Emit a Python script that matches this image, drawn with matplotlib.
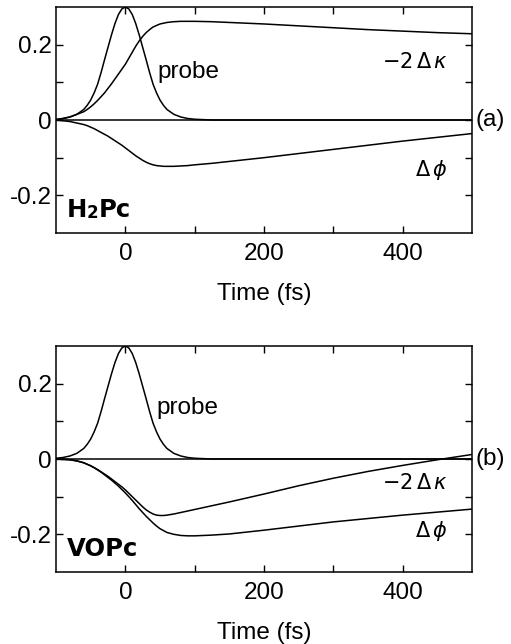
import matplotlib
matplotlib.use("Agg")
import matplotlib.pyplot as plt
import matplotlib.transforms as mtransforms

# ---------------- data ----------------
time_fs = [-100, -90, -80, -70, -60, -55, -50, -45, -40, -35, -30, -25, -20, -15, -10, -5,
           0, 5, 10, 15, 20, 25, 30, 35, 40, 45, 50, 55, 60, 70, 80, 90, 100,
           125, 150, 200, 250, 300, 350, 400, 450, 500]

probe = [0.002, 0.004, 0.008, 0.015, 0.028, 0.039, 0.053, 0.072, 0.095, 0.126, 0.160,
         0.193, 0.226, 0.256, 0.280, 0.295,
         0.300, 0.295, 0.280, 0.256, 0.226, 0.193, 0.160, 0.126, 0.095, 0.072, 0.053,
         0.039, 0.028, 0.015, 0.008, 0.004, 0.002,
         0.0, 0.0, 0.0, 0.0, 0.0, 0.0, 0.0, 0.0, 0.0]

# (a) H2Pc
kappa_a = [0.0, 0.004, 0.008, 0.015, 0.022, 0.028, 0.035, 0.043, 0.052, 0.062, 0.072,
           0.084, 0.096, 0.109, 0.122, 0.135,
           0.148, 0.164, 0.180, 0.196, 0.210, 0.222, 0.232, 0.240, 0.247, 0.251, 0.255,
           0.257, 0.259, 0.261, 0.262, 0.262, 0.262,
           0.261, 0.259, 0.255, 0.250, 0.245, 0.240, 0.236, 0.232, 0.229]
phi_a = [0.0, -0.002, -0.004, -0.008, -0.012, -0.015, -0.019, -0.023, -0.028, -0.033,
         -0.038, -0.043, -0.049, -0.055, -0.061, -0.067,
         -0.074, -0.081, -0.088, -0.095, -0.101, -0.107, -0.112, -0.116, -0.119, -0.121,
         -0.122, -0.123, -0.123, -0.123, -0.122, -0.121, -0.119,
         -0.115, -0.110, -0.100, -0.089, -0.078, -0.067, -0.056, -0.046, -0.036]

# (b) VOPc
kappa_b = [0.0, -0.001, -0.002, -0.005, -0.010, -0.014, -0.018, -0.023, -0.028, -0.034,
           -0.040, -0.046, -0.053, -0.060, -0.067, -0.074,
           -0.082, -0.091, -0.100, -0.109, -0.118, -0.127, -0.135, -0.141, -0.146, -0.149,
           -0.150, -0.150, -0.149, -0.146, -0.142, -0.138, -0.134,
           -0.124, -0.114, -0.093, -0.071, -0.051, -0.033, -0.017, -0.002, 0.012]
phi_b = [0.0, -0.001, -0.002, -0.005, -0.010, -0.014, -0.018, -0.023, -0.029, -0.035,
         -0.042, -0.049, -0.056, -0.064, -0.072, -0.081,
         -0.090, -0.100, -0.110, -0.121, -0.132, -0.142, -0.152, -0.161, -0.170, -0.178,
         -0.185, -0.190, -0.195, -0.200, -0.203, -0.204, -0.204,
         -0.202, -0.199, -0.189, -0.178, -0.167, -0.158, -0.149, -0.141, -0.133]

xticks = [0, 200, 400]
xminor = [100, 300]
yticks = [-0.2, 0.0, 0.2]
ytick_labels = ["-0.2", "0", "0.2"]
yminor = [-0.1, 0.1]

# ---------------- style ----------------
plt.rcParams['font.family'] = ['Liberation Sans', 'DejaVu Sans']
plt.rcParams['mathtext.fontset'] = 'dejavusans'
FS = 17.5
LW = 1.1

fig = plt.figure(figsize=(5.11, 6.44), dpi=100)
ax_a = fig.add_axes([0.1096, 0.6382, 0.8141, 0.3509])
ax_b = fig.add_axes([0.1096, 0.1118, 0.8141, 0.3509])


def setup(ax):
    ax.set_xlim(-100, 500)
    ax.set_ylim(-0.3, 0.3)
    ax.set_xticks(xticks)
    ax.set_xticklabels([str(v) for v in xticks])
    ax.set_xticks(xminor, minor=True)
    ax.set_yticks(yticks)
    ax.set_yticklabels(ytick_labels)
    ax.set_yticks(yminor, minor=True)
    ax.tick_params(which='both', direction='in', top=True, right=True,
                   length=5, width=1.0, labelsize=FS)
    ax.tick_params(axis='x', which='major', pad=7)
    ax.tick_params(axis='y', which='major', pad=3)
    for s in ax.spines.values():
        s.set_linewidth(1.1)
    ax.axhline(0, color='black', lw=LW)
    ax.set_xlabel("Time (fs)", fontsize=FS, labelpad=13)


def compound_label(ax, x, y, parts):
    t = ax.text(x, y, parts[0][0], fontsize=parts[0][1], fontweight='heavy',
                family='DejaVu Sans', va='baseline', ha='left')
    prev = t
    for txt, sz in parts[1:]:
        prev = ax.annotate(txt, xy=(1, 0), xycoords=prev, fontsize=sz,
                           fontweight='heavy', family='DejaVu Sans',
                           va='bottom', ha='left')
    return t


for ax, kap, phi, tag, name in [
        (ax_a, kappa_a, phi_a, '(a)', [('H', 17.5), ('2', 12), ('Pc', 17.5)]),
        (ax_b, kappa_b, phi_b, '(b)', [('VOPc', 17.5)])]:
    setup(ax)
    ax.plot(time_fs, probe, color='black', lw=LW)
    ax.plot(time_fs, kap, color='black', lw=LW)
    ax.plot(time_fs, phi, color='black', lw=LW)
    trans = mtransforms.blended_transform_factory(ax.transAxes, ax.transData)
    ax.text(1.008, 0.0, tag, transform=trans, fontsize=FS, va='center', ha='left')
    compound_label(ax, -85, -0.258, name)

ax_a.text(47, 0.128, "probe", fontsize=FS, va='center', ha='left')
ax_b.text(45, 0.136, "probe", fontsize=FS, va='center', ha='left')

ax_a.text(465, 0.155, r"$-2\,\Delta\,\kappa$", fontsize=15, va='center', ha='right')
ax_a.text(465, -0.133, r"$\Delta\,\phi$", fontsize=15, va='center', ha='right')
ax_b.text(465, -0.064, r"$-2\,\Delta\,\kappa$", fontsize=15, va='center', ha='right')
ax_b.text(465, -0.190, r"$\Delta\,\phi$", fontsize=15, va='center', ha='right')

fig.savefig("out.png", dpi=100)
